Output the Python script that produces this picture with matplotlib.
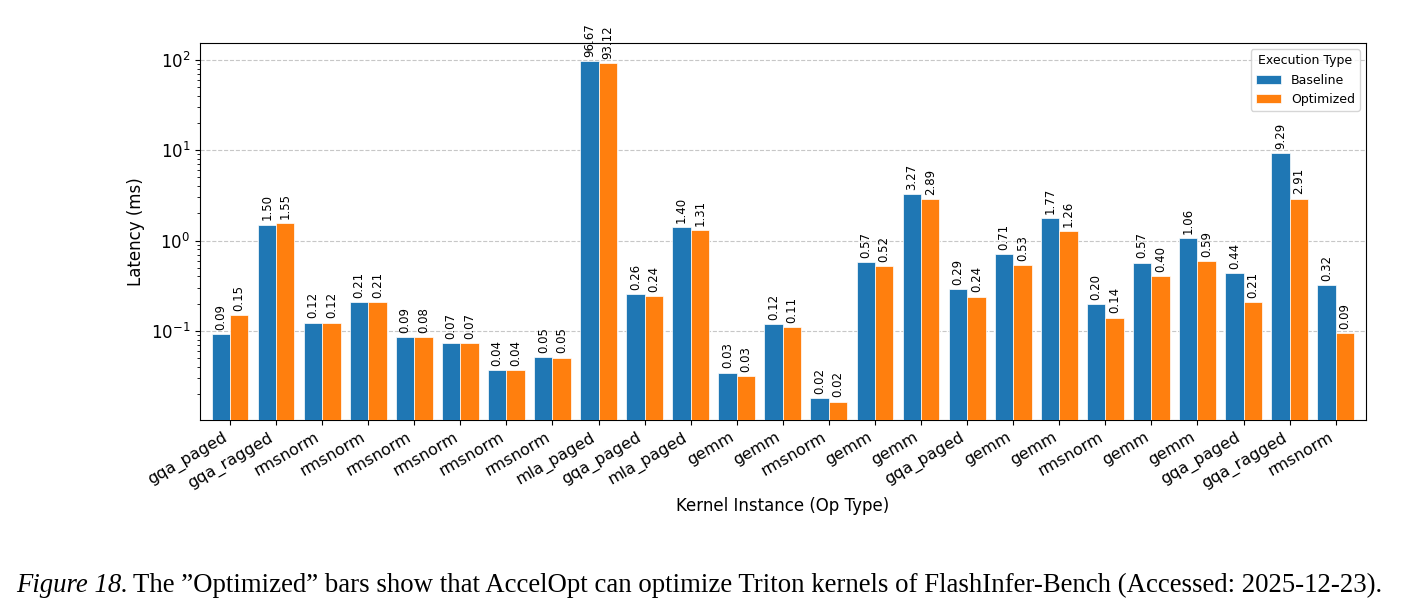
import matplotlib
matplotlib.use("Agg")
import matplotlib.pyplot as plt
import numpy as np

kernels = ["gqa_paged", "gqa_ragged", "rmsnorm", "rmsnorm", "rmsnorm", "rmsnorm",
           "rmsnorm", "rmsnorm", "mla_paged", "gqa_paged", "mla_paged", "gemm",
           "gemm", "rmsnorm", "gemm", "gemm", "gqa_paged", "gemm", "gemm",
           "rmsnorm", "gemm", "gemm", "gqa_paged", "gqa_ragged", "rmsnorm"]
baseline = [0.0919, 1.50, 0.1236, 0.2087, 0.0855, 0.0725, 0.0366, 0.0517, 96.67,
            0.258, 1.40, 0.0345, 0.1184, 0.0180, 0.573, 3.27, 0.29, 0.71, 1.77,
            0.20, 0.57, 1.06, 0.44, 9.29, 0.32]
optimized = [0.151, 1.55, 0.1236, 0.2087, 0.0845, 0.0725, 0.0366, 0.0505, 93.12,
             0.245, 1.31, 0.0318, 0.1107, 0.0165, 0.52, 2.89, 0.24, 0.53, 1.26,
             0.14, 0.40, 0.59, 0.21, 2.91, 0.094]
series_names = ["Baseline", "Optimized"]
colors = ["#1f77b4", "#ff7f0e"]

fig = plt.figure(figsize=(14.06, 6.16), dpi=100)
ax = fig.add_axes([200/1406, 1-420/616, (1366-200)/1406, (420-43)/616])

x = np.arange(len(kernels))
w = 0.4
for i, (vals, name) in enumerate(zip([baseline, optimized], series_names)):
    bars = ax.bar(x + (i - 0.5) * w, vals, width=w, color=colors[i], label=name,
                  edgecolor="white", linewidth=0.5, zorder=3)
    ax.bar_label(bars, labels=[f"{v:.2f}" for v in vals], padding=3,
                 rotation=90, fontsize=8.5, zorder=4)

ax.set_yscale("log")
ax.set_ylim(0.0103, 154)
ax.set_xlim(-0.651, len(kernels) - 1 + 0.658)
ax.set_xticks(x)
ax.set_xticklabels(kernels, rotation=30, ha="right", fontsize=11.5)
ax.tick_params(axis="y", labelsize=12)
ax.set_ylabel("Latency (ms)", fontsize=12)
ax.set_xlabel("Kernel Instance (Op Type)", fontsize=12)
ax.grid(axis="y", which="major", linestyle="--", color="#b0b0b0", alpha=0.7, zorder=0)
ax.set_axisbelow(True)
leg = ax.legend(title="Execution Type", loc="upper right", fontsize=9, title_fontsize=9)

# caption
renderer = fig.canvas.get_renderer()
cap_size = 19.3
t1 = fig.text(16/1406, 1-585/616, "Figure 18.", fontfamily="Liberation Serif",
              fontstyle="italic", fontsize=cap_size, va="center", ha="left")
bb = t1.get_window_extent(renderer=renderer)
fig.text(bb.x1/1406 + 5/1406, 1-585/616,
         "The \u201dOptimized\u201d bars show that AccelOpt can optimize Triton kernels of FlashInfer-Bench (Accessed: 2025-12-23).",
         fontfamily="Liberation Serif", fontsize=cap_size, va="center", ha="left")

fig.savefig("out.png", dpi=100)
